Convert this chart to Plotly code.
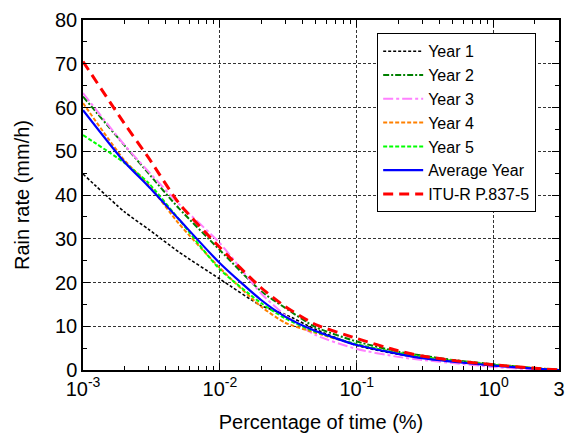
import numpy as np
import plotly.graph_objects as go

# Percentage of time (%)
pct = [0.001, 0.002, 0.003, 0.005, 0.01, 0.02, 0.03, 0.05, 0.1, 0.2, 0.3, 0.5, 1, 2, 3]

year1 = [44.8, 36.2, 32.2, 27.0, 20.8, 14.7, 12.7, 9.3, 5.6, 3.6, 2.8, 2.0, 1.1, 0.4, 0]
year2 = [62.5, 51.4, 45.0, 37.0, 27.4, 18.0, 14.2, 9.8, 6.5, 4.2, 3.3, 2.3, 1.3, 0.4, 0]
year3 = [63.3, 51.5, 45.4, 38.0, 29.0, 17.5, 12.5, 8.0, 4.8, 3.0, 2.3, 1.6, 0.7, 0.1, 0]
year4 = [61.0, 48.0, 42.4, 33.5, 23.3, 14.5, 10.8, 8.5, 5.8, 3.9, 3.0, 2.1, 1.2, 0.5, 0]
year5 = [53.7, 47.4, 42.8, 34.5, 23.0, 15.3, 11.8, 8.7, 5.9, 3.9, 3.0, 2.1, 1.2, 0.4, 0]
average = [59.4, 47.6, 42.0, 34.5, 24.4, 16.0, 12.2, 8.9, 5.7, 3.7, 2.7, 1.9, 1.0, 0.3, 0]
itu = [70.5, 56.4, 48.6, 38.2, 28.0, 18.8, 14.5, 10.4, 7.2, 4.4, 3.2, 2.2, 1.2, 0.4, 0]

x_tickvals = [0.001, 0.01, 0.1, 1, 3]
x_ticktext = ["10<sup>-3</sup>", "10<sup>-2</sup>", "10<sup>-1</sup>", "10<sup>0</sup>", "3"]

series = [
    ("Year 1", year1, "#000000", "3px,2px", 1.6),
    ("Year 2", year2, "#008000", "6px,2px,2px,2px", 2),
    ("Year 3", year3, "#FF80FF", "10px,3px,3px,3px", 2),
    ("Year 4", year4, "#FF8000", "4px,2px", 2),
    ("Year 5", year5, "#00FF00", "4px,2px", 2),
    ("Average Year", average, "#0000FF", "solid", 2.2),
    ("ITU-R P.837-5", itu, "#FF0000", "10px,6px", 3),
]

fig = go.Figure()
for name, vals, color, dash, w in series:
    fig.add_trace(go.Scatter(
        x=pct, y=vals, mode="lines", name=name,
        line=dict(color=color, dash=dash, width=w, shape="spline", smoothing=0.6),
    ))

minor_x = []
for d in [0.001, 0.01, 0.1, 1]:
    for k in range(2, 10):
        v = d * k
        if v < 3:
            minor_x.append(v)

font_family = "Arial, Liberation Sans, sans-serif"

fig.update_layout(
    width=569, height=436,
    margin=dict(l=83, r=10, t=20, b=66),
    paper_bgcolor="white", plot_bgcolor="white",
    font=dict(family=font_family, color="black", size=20),
    legend=dict(
        x=0.618, y=0.962, xanchor="left", yanchor="top",
        bgcolor="white", bordercolor="black", borderwidth=1,
        font=dict(size=16, family=font_family),
        tracegroupgap=0, itemwidth=40,
    ),
    xaxis=dict(
        type="log", range=[-3, np.log10(3)], automargin=False,
        tickvals=x_tickvals, ticktext=x_ticktext,
        ticks="inside", ticklen=7, tickcolor="black", tickwidth=1,
        showline=True, linecolor="black", linewidth=1.5, mirror="ticks",
        showgrid=True, gridcolor="#333333", griddash="3px,2px", gridwidth=1,
        zeroline=False,
        minor=dict(tickvals=minor_x, ticks="inside", ticklen=4, tickcolor="black", showgrid=False),
        title=dict(text="Percentage of time (%)", font=dict(size=20), standoff=16),
        tickfont=dict(size=20),
    ),
    yaxis=dict(
        range=[0, 80], dtick=10, tick0=0, automargin=False,
        ticks="inside", ticklen=7, tickcolor="black", tickwidth=1,
        showline=True, linecolor="black", linewidth=1.5, mirror="ticks",
        showgrid=True, gridcolor="#333333", griddash="3px,2px", gridwidth=1,
        zeroline=False,
        minor=dict(dtick=5, ticks="inside", ticklen=4, tickcolor="black", showgrid=False),
        title=dict(text="Rain rate (mm/h)", font=dict(size=20), standoff=20),
        tickfont=dict(size=20),
    ),
)

fig.write_html("out.html")
